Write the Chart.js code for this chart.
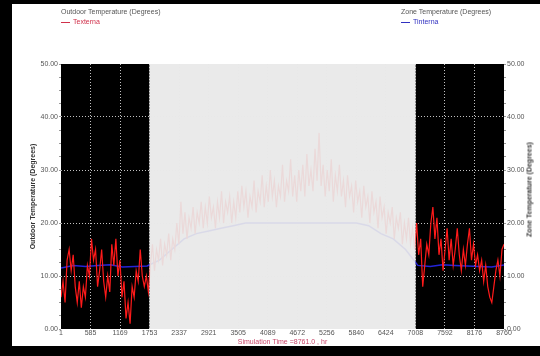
<!DOCTYPE html>
<html>
<head>
<meta charset="utf-8">
<script src="https://cdn.jsdelivr.net/npm/chart.js@4"></script>
<style>
  body { margin: 0; background: #fff; font-family: "Liberation Sans", Arial, sans-serif; }
  #frame { position: relative; width: 528px; height: 342px; border-left: 12px solid #000; border-top: 4px solid #000; border-bottom: 10px solid #000; background: #fff; }
  canvas { position: absolute; left: 0; top: 0; }
  .leg { position: absolute; font-size: 7px; color: #555; white-space: nowrap; line-height: 9px; }
  .leg .dash { display: inline-block; width: 9px; height: 1px; vertical-align: middle; margin-right: 3px; }
  .rtitle { position: absolute; width: 140px; left: 447px; top: 181px; text-align: center; font-size: 7px; font-weight: bold; color: #333; line-height: 9px; transform: rotate(-90deg); transform-origin: 50% 50%; white-space: nowrap; }
</style>
</head>
<body>
<div id="frame">
  <canvas id="chart" width="528" height="342"></canvas>
  <div class="leg" style="left:49px; top:3px;">Outdoor Temperature (Degrees)</div>
  <div class="leg" style="left:49px; top:13px; color:#d0304a;"><span class="dash" style="background:#d0304a"></span>Texterna</div>
  <div class="leg" style="left:389px; top:3px;">Zone Temperature (Degrees)</div>
  <div class="leg" style="left:389px; top:13px; color:#3030c0;"><span class="dash" style="background:#3030c0"></span>Tinterna</div>
  <div class="rtitle">Zone Temperature (Degrees)</div>
</div>
<script>
// x axis tick labels (simulation hour)
const xTicks = [1, 585, 1169, 1753, 2337, 2921, 3505, 4089, 4672, 5256, 5840, 6424, 7008, 7592, 8176, 8760];

// shaded (non heating) period
const shadeFrom = 1753;
const shadeTo = 7008;

// Texterna, outdoor temperature, read every ~40 h through the year
const texterna = [
  6, 9, 5, 13, 15, 11, 14, 8, 5, 9, 4, 8, 6, 12, 10, 17, 13, 15, 8, 11, 15, 9, 6, 10, 7, 16, 12, 17, 10, 13,
  6, 9, 2, 5, 1, 8, 6, 11, 9, 15, 10, 8, 10, 7,
  12, 16, 11, 15, 13, 17, 12, 16, 14, 18, 13, 17, 15, 20, 16, 24, 18, 22, 17, 21, 19, 23, 18, 22, 20, 24,
  19, 23, 20, 25, 21, 23, 19, 24, 21, 26, 20, 24, 22, 25, 20, 24, 21, 26, 22, 27, 23, 26, 21, 25, 23, 28,
  22, 26, 24, 29, 23, 27, 24, 30, 25, 28, 23, 27, 25, 31, 24, 28, 26, 32, 25, 29, 24, 30, 26, 31, 25, 33,
  27, 30, 26, 34, 28, 37, 27, 31, 25, 30, 26, 32, 24, 29, 26, 31, 25, 28, 23, 29, 25, 27, 22, 28, 24, 26,
  21, 27, 23, 25, 20, 26, 22, 24, 19, 25, 21, 23, 18, 22, 20, 23, 17, 21, 19, 22, 16, 20, 17, 21, 16, 19, 15,
  20, 14, 17, 8, 12, 16, 14, 20, 23, 17, 21, 14, 17, 11, 15, 19, 13, 17, 12, 15, 19, 14, 11, 15, 12, 16,
  19, 13, 16, 12, 14, 11, 13, 9, 12, 8, 6, 5, 8, 11, 13, 10, 15, 16
];

// Tinterna, zone temperature, read every ~243 h
const tinterna = [
  11.5, 12, 11.8, 12, 12.1, 11.7, 11.8, 11.9,
  13, 15, 17, 18, 18.5, 19, 19.5, 20, 20, 20, 20, 20, 20, 20, 20, 20, 20, 19.5, 18, 17, 15,
  12, 11.8, 12.1, 12, 11.9, 11.8, 11.7, 12.1
];

const texternaPts = texterna.map((v, i) => ({ x: 1 + i * 8759 / (texterna.length - 1), y: v }));
const tinternaPts = tinterna.map((v, i) => ({ x: 1 + i * 8759 / (tinterna.length - 1), y: v }));

const tickFont = { family: 'Liberation Sans, Arial, sans-serif', size: 7 };
const titleFont = { family: 'Liberation Sans, Arial, sans-serif', size: 7, weight: 'bold' };

// Chart area panels: black for heating period, light grey in between
const panels = {
  id: 'panels',
  beforeDraw(chart) {
    const { ctx, chartArea: a, scales } = chart;
    const x1 = scales.x.getPixelForValue(shadeFrom);
    const x2 = scales.x.getPixelForValue(shadeTo);
    ctx.save();
    ctx.fillStyle = '#000';
    ctx.fillRect(a.left, a.top, a.right - a.left, a.bottom - a.top);
    ctx.fillStyle = '#e9e9e9';
    ctx.fillRect(x1, a.top, x2 - x1, a.bottom - a.top);
    ctx.restore();
  },
  afterDatasetsDraw(chart) {
    const { ctx, chartArea: a, scales } = chart;
    const x1 = scales.x.getPixelForValue(shadeFrom);
    const x2 = scales.x.getPixelForValue(shadeTo);
    ctx.save();
    ctx.fillStyle = 'rgba(233,233,233,0.92)';
    ctx.fillRect(x1, a.top, x2 - x1, a.bottom - a.top);
    ctx.restore();
  }
};

const majorGrid = (ctx) => {
  const v = ctx.tick ? ctx.tick.value : 0;
  return (v % 10 === 0 && v > 0 && v < 50) ? 'rgba(215,215,215,0.9)' : 'rgba(0,0,0,0)';
};

new Chart(document.getElementById('chart'), {
  type: 'line',
  data: {
    datasets: [
      { label: 'Texterna', data: texternaPts, borderColor: '#ff1a1a', borderWidth: 1.2, pointRadius: 0, yAxisID: 'y' },
      { label: 'Tinterna', data: tinternaPts, borderColor: '#2424d8', borderWidth: 1.5, pointRadius: 0, yAxisID: 'y2' }
    ]
  },
  options: {
    responsive: false,
    animation: false,
    devicePixelRatio: 1,
    layout: { padding: { top: 60, left: 0, right: 0, bottom: 0 } },
    plugins: { legend: { display: false }, tooltip: { enabled: false } },
    scales: {
      x: {
        type: 'linear', min: 1, max: 8760,
        afterBuildTicks: (s) => { s.ticks = xTicks.map(v => ({ value: v })); },
        afterFit: (s) => { s.height = 17; },
        ticks: { font: tickFont, color: '#555', padding: 0, maxRotation: 0, autoSkip: false, callback: (v) => String(v) },
        grid: { color: (ctx) => (ctx.tick && ctx.tick.value > 1 && ctx.tick.value < 8760) ? 'rgba(215,215,215,0.9)' : 'rgba(0,0,0,0)', drawTicks: false },
        border: { display: false, dash: [1, 2] },
        title: { display: true, text: 'Simulation Time =8761.0 , hr', color: '#c8466a', font: tickFont, padding: { top: 0, bottom: 0 } }
      },
      y: {
        position: 'left', min: 0, max: 50,
        afterFit: (s) => { s.width = 49; },
        ticks: { stepSize: 2.5, font: tickFont, color: '#555', padding: 1, callback: (v) => v % 10 === 0 ? v.toFixed(2) : '' },
        grid: { color: majorGrid, tickColor: '#999', tickLength: 2 },
        border: { display: false, dash: [1, 2] },
        title: { display: true, text: 'Outdoor Temperature (Degrees)', color: '#333', font: titleFont, padding: { top: 17, bottom: 0 } }
      },
      y2: {
        position: 'right', min: 0, max: 50,
        afterFit: (s) => { s.width = 36; },
        ticks: { stepSize: 2.5, font: tickFont, color: '#555', padding: 1, callback: (v) => v % 10 === 0 ? v.toFixed(2) : '' },
        grid: { drawOnChartArea: false, tickColor: '#999', tickLength: 2 },
        border: { display: false }
      }
    }
  },
  plugins: [panels]
});
</script>
</body>
</html>
